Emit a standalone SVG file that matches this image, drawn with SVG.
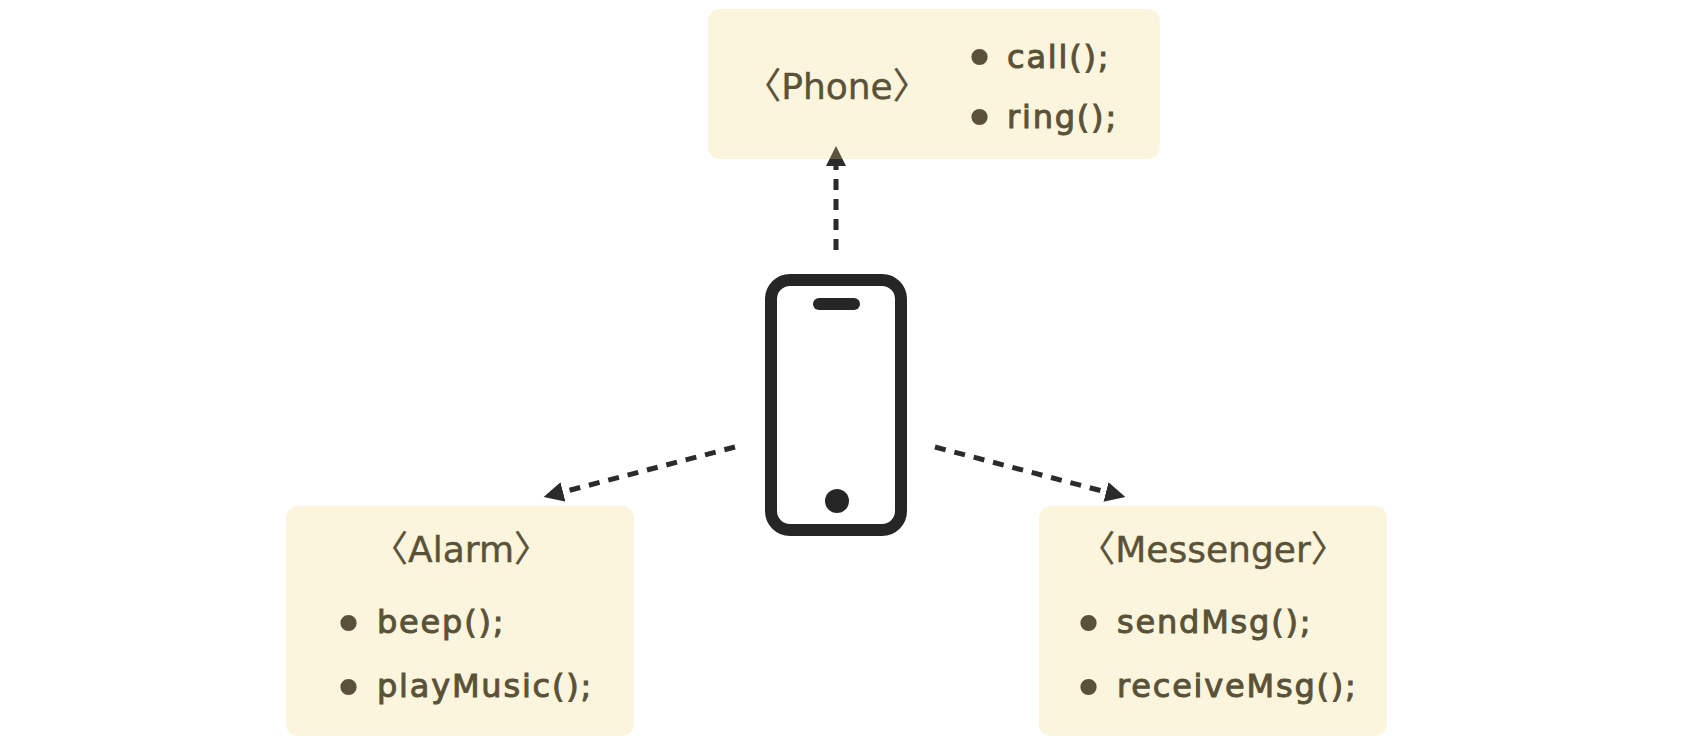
<svg xmlns="http://www.w3.org/2000/svg" width="1682" height="746" viewBox="0 0 1682 746">
<defs>
<style>
.box{fill:rgb(245,215,120);fill-opacity:0.25}
.lbl{font-family:"DejaVu Sans","Noto Sans CJK KR",sans-serif;font-size:32px;letter-spacing:1.8px;fill:#5a5238;stroke:#5a5238;stroke-width:1}
.ttl{text-anchor:middle;font-size:36px;letter-spacing:0;stroke-width:0.4}
.bul{font-family:"DejaVu Sans",sans-serif;font-size:56px;fill:#5a5238;text-anchor:middle}
.edge{stroke:#2b2b2b;stroke-width:5;stroke-dasharray:11 9;fill:none}
.icon{stroke:#262626;stroke-width:12;fill:none;stroke-linecap:round}
</style>
<marker id="ah" markerWidth="20" markerHeight="20" viewBox="0 0 20 20" refX="0" refY="10" orient="auto" markerUnits="userSpaceOnUse">
<path d="M0,0 L20,10 L0,20 Z" fill="#2b2b2b"/>
</marker>
</defs>
<rect width="1682" height="746" fill="#ffffff"/>
<g id="connectors">
<path class="edge" d="M836,250 L836,166" marker-end="url(#ah)"/>
<path class="edge" d="M735,447 L563,492" marker-end="url(#ah)"/>
<path class="edge" d="M935,447 L1106,492" marker-end="url(#ah)"/>
</g>
<g id="phone-iface">
<rect class="box" x="708" y="9" width="452" height="150" rx="12"/>
<text class="lbl ttl" x="837" y="99">〈Phone〉</text>
<text class="bul" x="979.5" y="78">•</text>
<text class="bul" x="979.5" y="138">•</text>
<text class="lbl" x="1007" y="68">call();</text>
<text class="lbl" x="1007" y="128">ring();</text>
</g>
<g id="phone">
<rect class="icon" x="771" y="280" width="130" height="250" rx="19"/>
<line class="icon" x1="819" y1="304" x2="854" y2="304"/>
<circle cx="837" cy="501" r="12" fill="#262626"/>
</g>
<g id="alarm">
<rect class="box" x="286" y="506" width="348" height="230" rx="12"/>
<text class="lbl ttl" x="461" y="562">〈Alarm〉</text>
<text class="bul" x="348.5" y="644">•</text>
<text class="bul" x="348.5" y="708">•</text>
<text class="lbl" x="377" y="633">beep();</text>
<text class="lbl" x="377" y="697">playMusic();</text>
</g>
<g id="messenger">
<rect class="box" x="1039" y="506" width="348" height="230" rx="12"/>
<text class="lbl ttl" x="1213" y="562">〈Messenger〉</text>
<text class="bul" x="1088.5" y="644">•</text>
<text class="bul" x="1088.5" y="708">•</text>
<text class="lbl" x="1117" y="633">sendMsg();</text>
<text class="lbl" x="1117" y="697">receiveMsg();</text>
</g>
</svg>
